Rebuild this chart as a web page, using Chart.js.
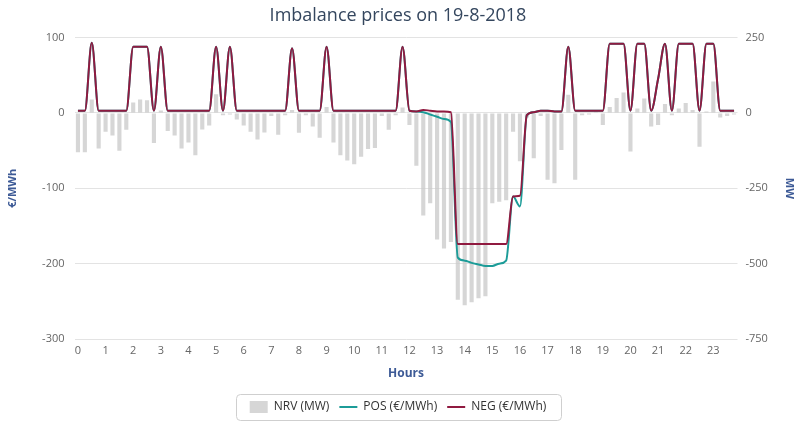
<!DOCTYPE html>
<html>
<head>
<meta charset="utf-8">
<script src="https://cdn.jsdelivr.net/npm/chart.js@4/dist/chart.umd.min.js"></script>
<style>
html,body{margin:0;padding:0;background:#fff;}
#wrap{width:796px;height:424px;position:relative;}
</style>
</head>
<body>
<div id="wrap"><canvas id="c" width="796" height="424"></canvas></div>
<script>
const chartTitle = 'Imbalance prices on 19-8-2018';
const hourLabels = ['0','1','2','3','4','5','6','7','8','9','10','11','12','13','14','15','16','17','18','19','20','21','22','23'];
const quarterMinutes = ['00','15','30','45'];
const categories = [];
hourLabels.forEach(h => quarterMinutes.forEach(m => categories.push(h + ':' + m)));

// NRV (MW), right axis, one value per quarter hour
const nrv = [
 -130,-130, 45,-118, -62, -75,-125, -56,  35, 45, 42,-100,   8, -60, -75,-118,
  -98,-140, -55, -42,  62,  -8,  -5, -22, -42, -62, -88, -65, -10, -72,  -8,  10,
  -66,  -8, -45, -82,  20, -98,-140,-158,-170,-145,-120,-116, -10, -56,  -8,  18,
  -40,-175,-340,-300,-420,-450,-428,-620,-638,-628,-615,-608,-300,-295,-290, -62,
 -160, -15,-150, -10,-222,-233,-123,  60,-222,  -8,  -5,   5, -40,  20,  50,  68,
 -128,  15,  48, -45, -40,  30,  -8,  15,  33,  10,-112,   5, 104, -15, -10,  -5
];
// POS (€/MWh)
const pos = [
   3,  3, 93,  3,  3,  3,  3,  3, 88, 88, 88,  3, 88,  3,  3,  3,
   3,  3,  3,  3, 88,  3, 88,  3,  3,  3,  3,  3,  3,  3,  3, 86,
   3,  3,  3,  3, 88,  3,  3,  3,  3,  3,  3,  3,  3,  3,  3, 88,
   3,  2,  1, -2, -5, -8,-12,-192,-196,-199,-201,-203,-203,-200,-196,-111,
 -124, -3,  1,  3,  3,  2,  2, 88,  3,  3,  3,  3,  3, 92, 92, 92,
   3, 92, 92,  3, 45, 92,  3, 92, 92, 92,  3, 92, 92,  3,  3,  3
];
// NEG (€/MWh)
const neg = [
   3,  3, 93,  3,  3,  3,  3,  3, 88, 88, 88,  3, 88,  3,  3,  3,
   3,  3,  3,  3, 88,  3, 88,  3,  3,  3,  3,  3,  3,  3,  3, 86,
   3,  3,  3,  3, 88,  3,  3,  3,  3,  3,  3,  3,  3,  3,  3, 88,
   3,  2,  4,  3,  2,  2,  1,-174,-174,-174,-174,-174,-174,-174,-174,-111,
 -110, -3,  1,  3,  3,  2,  2, 88,  3,  3,  3,  3,  3, 92, 92, 92,
   3, 92, 92,  3, 45, 92,  3, 92, 92, 92,  3, 92, 92,  3,  3,  3
];
const leftTicks = [-300,-200,-100,0,100];
const rightTicks = [-750,-500,-250,0,250];

const legendBorder = {
  id: 'legendBorder',
  afterDraw(chart) {
    const lg = chart.legend;
    if (!lg || !lg.legendHitBoxes || !lg.legendHitBoxes.length) return;
    const hb = lg.legendHitBoxes;
    let l = Infinity, r = -Infinity, t = Infinity, b = -Infinity;
    hb.forEach(h => { l = Math.min(l, h.left); r = Math.max(r, h.left + h.width); t = Math.min(t, h.top); b = Math.max(b, h.top + h.height); });
    const ctx = chart.ctx;
    ctx.save();
    ctx.strokeStyle = '#cfcfcf';
    ctx.lineWidth = 1;
    const x = Math.round(l - 14) + 0.5, y = Math.round(t - 7) + 0.5, w = Math.round(r - l + 28), h = Math.round(b - t + 14);
    ctx.beginPath();
    if (ctx.roundRect) ctx.roundRect(x, y, w, h, 4); else ctx.rect(x, y, w, h);
    ctx.stroke();
    ctx.restore();
  }
};

new Chart(document.getElementById('c'), {
  data: {
    labels: categories,
    datasets: [
      { type: 'bar', label: 'NRV (MW)', data: nrv, yAxisID: 'y1', backgroundColor: 'rgba(200,200,200,0.75)', borderWidth: 0,
        barPercentage: 0.6, categoryPercentage: 1.0, order: 3, pointStyle: 'rect' },
      { type: 'line', label: 'POS (€/MWh)', data: pos, yAxisID: 'y', borderColor: '#1c9c98', backgroundColor: '#1c9c98', borderWidth: 2,
        pointRadius: 0, cubicInterpolationMode: 'monotone', order: 2, pointStyle: 'line' },
      { type: 'line', label: 'NEG (€/MWh)', data: neg, yAxisID: 'y', borderColor: '#901a40', backgroundColor: '#b8324f', borderWidth: 2,
        pointRadius: 0, cubicInterpolationMode: 'monotone', order: 1, pointStyle: 'line' }
    ]
  },
  options: {
    responsive: false,
    animation: false,
    layout: { padding: { left: 0, right: 0, top: 0, bottom: 1 } },
    plugins: {
      title: { display: true, text: chartTitle, color: '#34465e', font: { family: 'Open Sans', size: 18, weight: 'normal' }, padding: { top: 5, bottom: 11 } },
      legend: {
        position: 'bottom',
        labels: {
          usePointStyle: true, boxWidth: 16, boxHeight: 12, pointStyleWidth: 18, padding: 10,
          color: '#333', font: { family: 'Open Sans', size: 12 },
          sort: (a, b) => a.datasetIndex - b.datasetIndex
        }
      },
      tooltip: { enabled: false }
    },
    scales: {
      x: {
        grid: { display: false, drawTicks: false }, border: { display: false },
        ticks: { autoSkip: false, maxRotation: 0, color: '#666', font: { family: 'Open Sans', size: 11 }, padding: 5,
          callback: (v, i) => (i % 4 === 0 ? hourLabels[i / 4] : '') },
        title: { display: true, text: 'Hours', color: '#3d5a96', font: { family: 'Open Sans', size: 12, weight: 'bold' }, padding: { top: 4, bottom: 10 } },
        afterFit: s => { s.height = 52; }
      },
      y: {
        position: 'left', min: -300, max: 100,
        afterBuildTicks: s => { s.ticks = leftTicks.map(v => ({ value: v })); },
        grid: { color: '#e3e3e3', drawTicks: false }, border: { display: false },
        ticks: { color: '#666', font: { family: 'Open Sans', size: 11 }, padding: 10 },
        title: { display: true, text: '€/MWh', color: '#3d5a96', font: { family: 'Open Sans', size: 11, weight: 'bold' }, padding: { top: 6, bottom: 0 } },
        afterFit: s => { s.width = 74.5; }
      },
      y1: {
        position: 'right', min: -750, max: 250,
        afterBuildTicks: s => { s.ticks = rightTicks.map(v => ({ value: v })); },
        grid: { drawOnChartArea: false, drawTicks: false }, border: { display: false },
        ticks: { color: '#666', font: { family: 'Open Sans', size: 11 }, padding: 8 },
        title: { display: true, text: 'MW', color: '#3d5a96', font: { family: 'Open Sans', size: 11, weight: 'bold' }, padding: 0 },
        afterFit: s => { s.width = 58.5; }
      }
    }
  },
  plugins: [legendBorder]
});
</script>
</body>
</html>
